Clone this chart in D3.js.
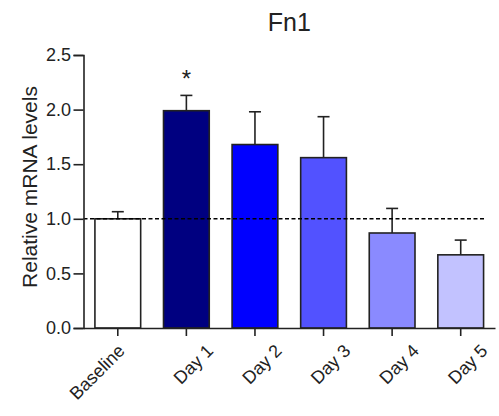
<!DOCTYPE html>
<html>
<head>
<meta charset="utf-8">
<script src="https://cdn.jsdelivr.net/npm/d3@7"></script>
<style>
  html, body { margin: 0; padding: 0; background: #fff; }
  svg { display: block; font-family: "Liberation Sans", Arial, Helvetica, sans-serif; }
</style>
</head>
<body>
<svg id="chart" width="499" height="416"></svg>
<script>
// Fn1 relative expression over time
const categories = ["Baseline", "Day 1", "Day 2", "Day 3", "Day 4", "Day 5"];
const means      = [1.00, 1.99, 1.68, 1.56, 0.87, 0.67];
const errors     = [0.065, 0.14, 0.30, 0.375, 0.225, 0.135];
const fills      = ["#ffffff", "#000080", "#0000ff", "#5252ff", "#8a8aff", "#c2c2ff"];
const significant = [false, true, false, false, false, false];
const yTicks     = [0, 0.5, 1.0, 1.5, 2.0, 2.5];
const referenceLevel = 1.0;

const svg = d3.select("#chart");
const plotLeft = 83.5, plotRight = 495, plotTop = 55, plotBottom = 328;

const x = d3.scaleBand()
  .domain(categories)
  .range([plotLeft, plotRight])
  .paddingInner(0.333)
  .paddingOuter(0.1665);

const y = d3.scaleLinear().domain([0, 2.5]).range([plotBottom, plotTop]);

const ink = "#222";

// title
svg.append("text")
  .attr("x", (plotLeft + plotRight) / 2)
  .attr("y", 31)
  .attr("text-anchor", "middle")
  .attr("font-size", 25)
  .attr("fill", ink)
  .text("Fn1");

// bars
const rows = categories.map((c, i) => ({ c, m: means[i], e: errors[i], f: fills[i], s: significant[i] }));

svg.append("g").selectAll("rect").data(rows).join("rect")
  .attr("x", d => x(d.c))
  .attr("y", d => y(d.m))
  .attr("width", x.bandwidth())
  .attr("height", d => y(0) - y(d.m))
  .attr("fill", d => d.f)
  .attr("stroke", ink)
  .attr("stroke-width", 1.6);

// error bars (upper only)
const eb = svg.append("g").attr("stroke", ink).attr("stroke-width", 1.6);
rows.forEach(d => {
  const cx = x(d.c) + x.bandwidth() / 2;
  eb.append("line").attr("x1", cx).attr("x2", cx).attr("y1", y(d.m)).attr("y2", y(d.m + d.e));
  eb.append("line").attr("x1", cx - 6).attr("x2", cx + 6).attr("y1", y(d.m + d.e)).attr("y2", y(d.m + d.e));
});

// significance marks
svg.append("g").selectAll("text").data(rows.filter(d => d.s)).join("text")
  .attr("x", d => x(d.c) + x.bandwidth() / 2)
  .attr("y", d => y(d.m + d.e) - 8)
  .attr("text-anchor", "middle")
  .attr("font-size", 24)
  .attr("fill", ink)
  .text("*");

// reference line at baseline level
svg.append("line")
  .attr("x1", plotLeft).attr("x2", 486)
  .attr("y1", y(referenceLevel)).attr("y2", y(referenceLevel))
  .attr("stroke", "#000")
  .attr("stroke-width", 1.5)
  .attr("stroke-dasharray", "4,2.5");

// y axis
const yAxis = svg.append("g")
  .attr("transform", `translate(${plotLeft},0)`)
  .call(d3.axisLeft(y).tickValues(yTicks).tickFormat(d3.format(".1f")).tickSize(10).tickPadding(2.5));
yAxis.select(".domain").attr("stroke", ink).attr("stroke-width", 1.6);
yAxis.selectAll(".tick line").attr("stroke", ink).attr("stroke-width", 1.6);
yAxis.selectAll(".tick text").attr("font-size", 18).attr("fill", ink).attr("font-family", null);

// x axis
const xAxis = svg.append("g")
  .attr("transform", `translate(0,${plotBottom})`)
  .call(d3.axisBottom(x).tickSize(8).tickSizeOuter(0));
xAxis.select(".domain").attr("stroke", ink).attr("stroke-width", 1.6);
xAxis.selectAll(".tick line").attr("stroke", ink).attr("stroke-width", 1.6);

// slanted category labels; the first one sits a little further left
const labelShift = { "Baseline": -20 };
xAxis.selectAll(".tick text")
  .attr("font-size", 18)
  .attr("fill", ink)
  .attr("font-family", null)
  .attr("text-anchor", "end")
  .attr("x", 0).attr("y", 0).attr("dy", 0)
  .attr("transform", d => `translate(${28 + (labelShift[d] || 0)},24) rotate(-45)`);

// y axis title
svg.append("text")
  .attr("transform", `translate(36.5,187) rotate(-90)`)
  .attr("text-anchor", "middle")
  .attr("font-size", 21)
  .attr("fill", ink)
  .text("Relative mRNA levels");
</script>
</body>
</html>
